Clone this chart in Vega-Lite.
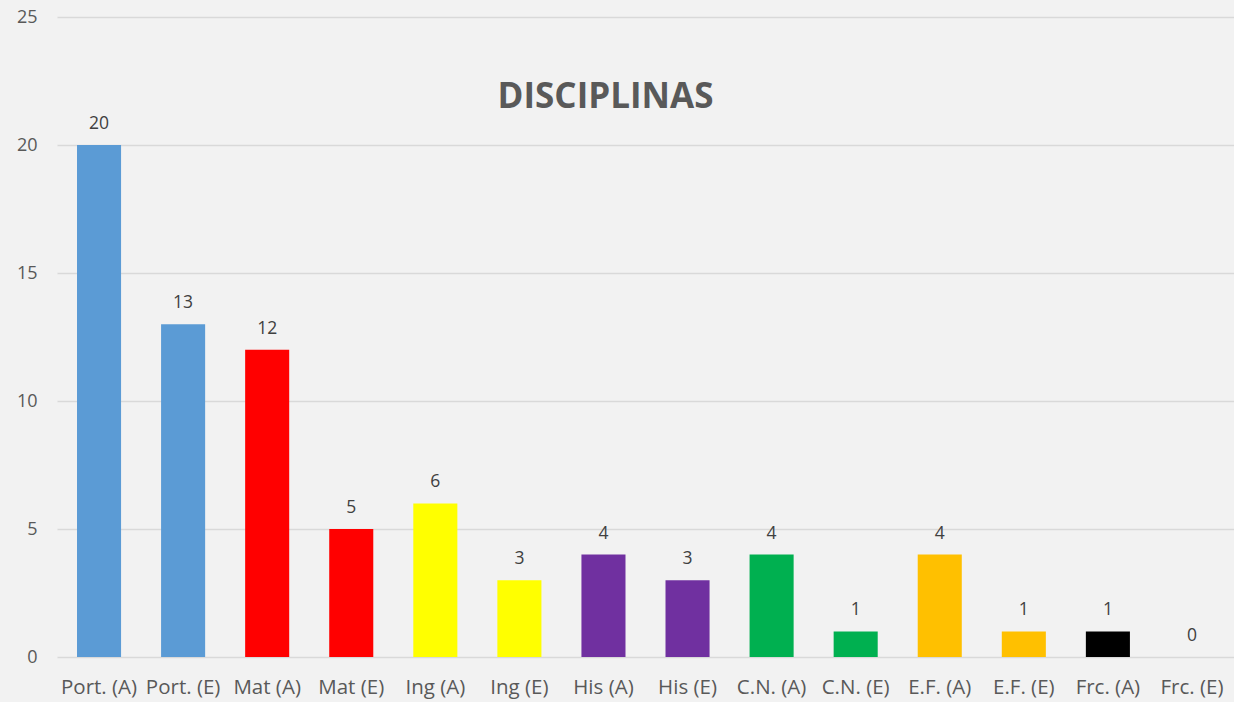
{
  "$schema": "https://vega.github.io/schema/vega-lite/v6.json",
  "width": 1177,
  "height": 640,
  "autosize": {"type": "none"},
  "padding": {"left": 57, "top": 17, "right": 0, "bottom": 45},
  "background": "#f2f2f2",
  "config": {
    "view": {"stroke": null},
    "font": "Open Sans",
    "axis": {"labelFont": "Open Sans", "labelColor": "#595959"}
  },
  "title": {
    "text": "DISCIPLINAS",
    "fontSize": 35,
    "fontWeight": "bold",
    "color": "#595959",
    "font": "Open Sans",
    "anchor": "middle",
    "offset": -107,
    "dx": -40
  },
  "data": {
    "values": [
      {"disc": "Port. (A)", "n": 20, "color": "#5b9bd5"},
      {"disc": "Port. (E)", "n": 13, "color": "#5b9bd5"},
      {"disc": "Mat (A)", "n": 12, "color": "#ff0000"},
      {"disc": "Mat (E)", "n": 5, "color": "#ff0000"},
      {"disc": "Ing (A)", "n": 6, "color": "#ffff00"},
      {"disc": "Ing (E)", "n": 3, "color": "#ffff00"},
      {"disc": "His (A)", "n": 4, "color": "#7030a0"},
      {"disc": "His (E)", "n": 3, "color": "#7030a0"},
      {"disc": "C.N. (A)", "n": 4, "color": "#00b050"},
      {"disc": "C.N. (E)", "n": 1, "color": "#00b050"},
      {"disc": "E.F. (A)", "n": 4, "color": "#ffc000"},
      {"disc": "E.F. (E)", "n": 1, "color": "#ffc000"},
      {"disc": "Frc. (A)", "n": 1, "color": "#000000"},
      {"disc": "Frc. (E)", "n": 0, "color": "#000000"}
    ]
  },
  "encoding": {
    "x": {
      "field": "disc",
      "type": "nominal",
      "sort": null,
      "scale": {"paddingInner": 0.476, "paddingOuter": 0.238},
      "axis": {
        "title": null,
        "labelAngle": 0,
        "labelFontSize": 20.5,
        "labelPadding": 20,
        "labelOverlap": false,
        "labelBound": false,
        "ticks": false,
        "domain": false
      }
    },
    "y": {
      "field": "n",
      "type": "quantitative",
      "scale": {"domain": [0, 25], "nice": false},
      "axis": {
        "title": null,
        "values": [0, 5, 10, 15, 20, 25],
        "labelFontSize": 18,
        "labelPadding": 20,
        "ticks": false,
        "domain": false,
        "gridColor": "#d9d9d9",
        "gridWidth": 1.5
      }
    }
  },
  "layer": [
    {
      "mark": {"type": "bar"},
      "encoding": {
        "color": {"field": "color", "type": "nominal", "scale": null, "legend": null}
      }
    },
    {
      "mark": {"type": "text", "dy": -12, "fontSize": 17.5, "color": "#404040", "baseline": "bottom"},
      "encoding": {"text": {"field": "n", "type": "quantitative"}}
    }
  ]
}
